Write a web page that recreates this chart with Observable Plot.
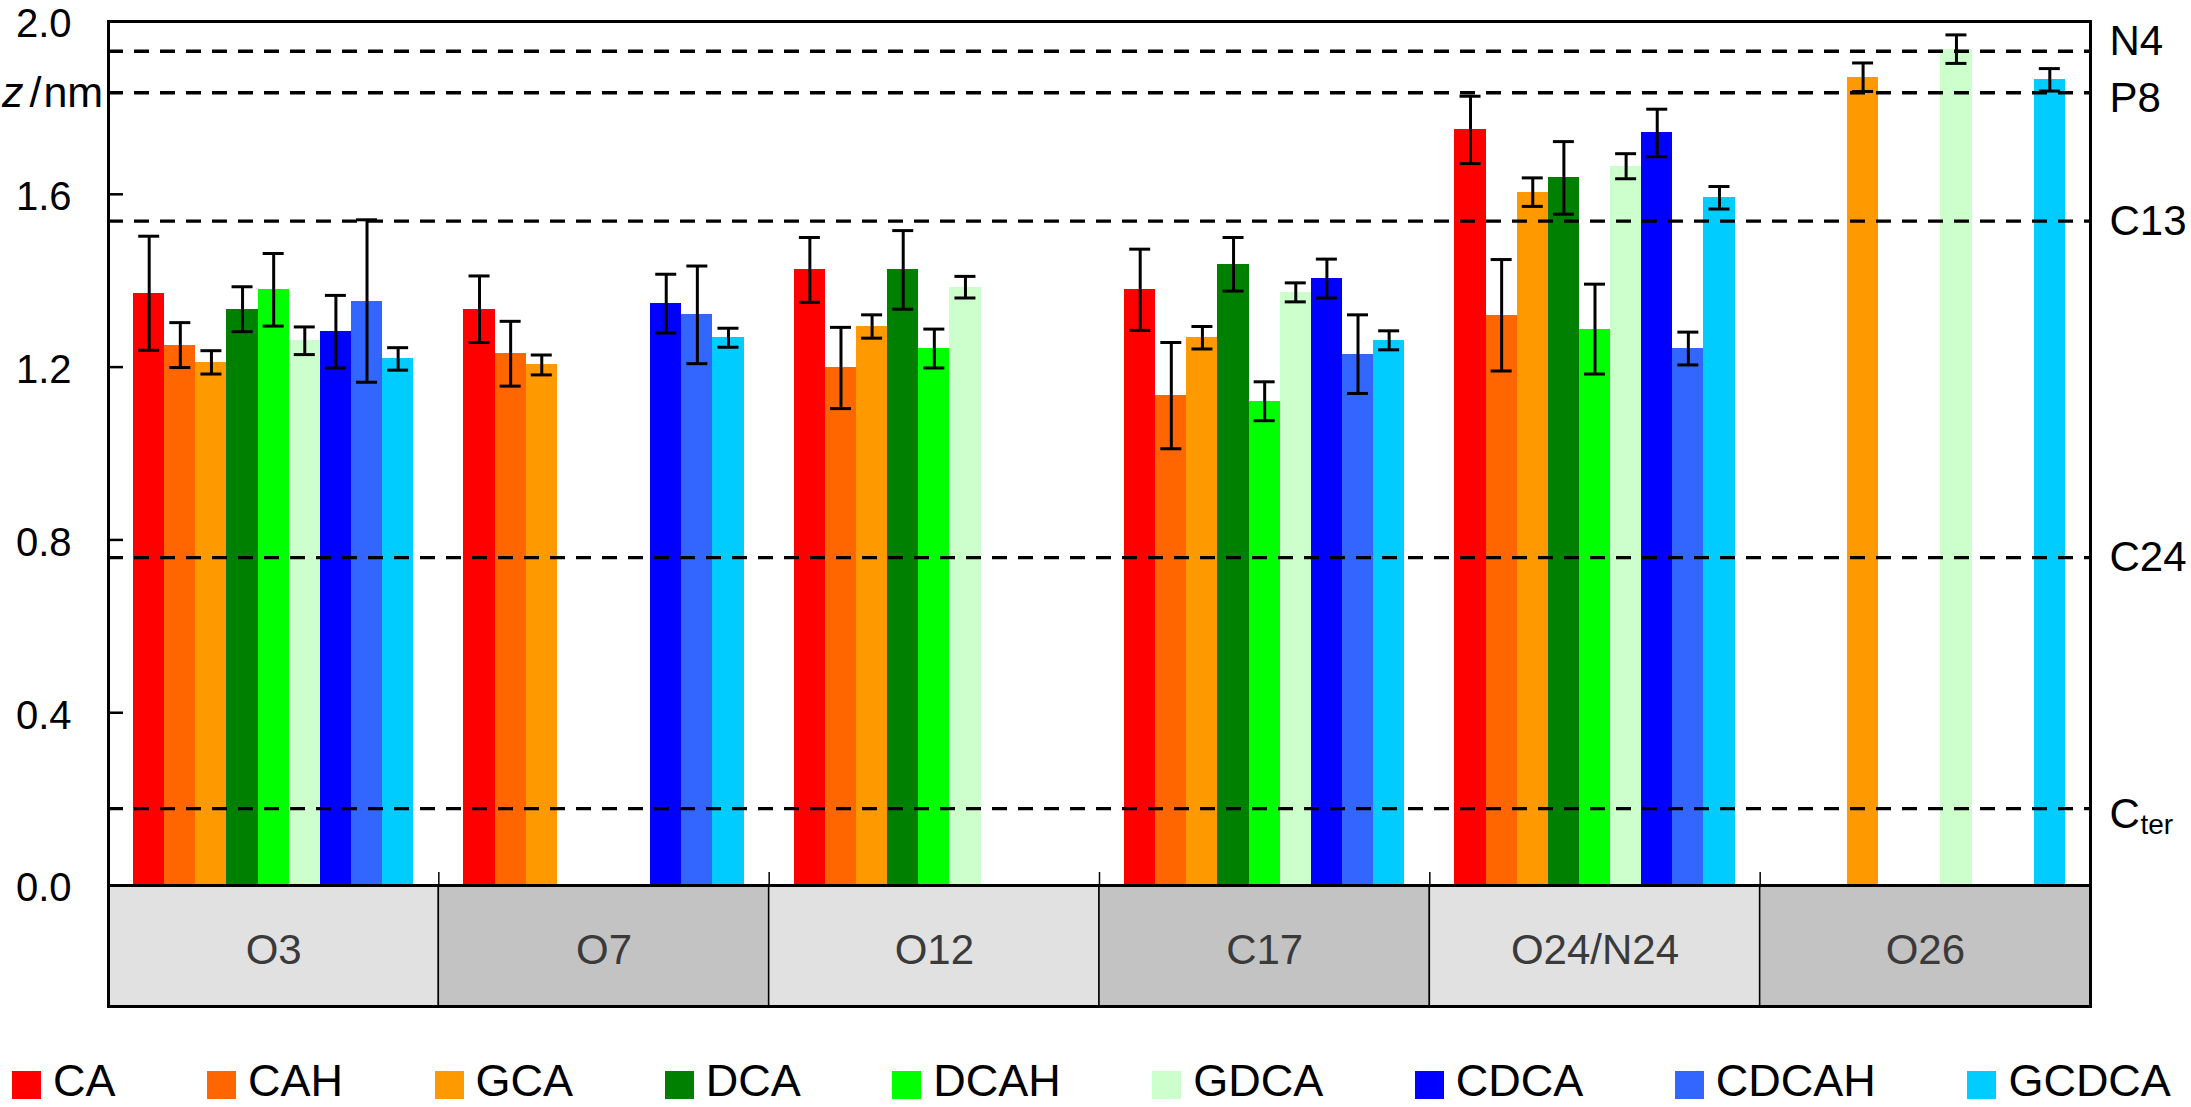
<!DOCTYPE html>
<html>
<head>
<meta charset="utf-8">
<script src="https://cdn.jsdelivr.net/npm/d3@7"></script>
<script src="https://cdn.jsdelivr.net/npm/@observablehq/plot@0.6"></script>
<style>
  html, body { margin: 0; padding: 0; background: #fff; }
  #wrap { position: relative; width: 2191px; height: 1107px; overflow: hidden; font-family: "Liberation Sans", Arial, sans-serif; }
  #ylab { position: absolute; left: 2px; top: 71px; font-size: 43px; line-height: 43px; color: #000; white-space: nowrap; }
  #ylab .sl { margin-left: 6px; margin-right: 2px; }
  #legend { position: absolute; left: 12px; top: 1056px; width: 2159px; height: 50px; display: flex; justify-content: space-between; align-items: flex-start; }
  .item { display: flex; align-items: flex-start; font-size: 45px; line-height: 50px; height: 50px; color: #000; }
  .sw { width: 29px; height: 28px; margin-top: 15px; margin-right: 12px; }
</style>
</head>
<body>
<div id="wrap">
  <div id="chart"></div>
  <div id="ylab"><i>z</i><span class="sl">/</span>nm</div>
  <div id="legend"></div>
</div>
<script>
// ---- data ----
const groups = ["O3", "O7", "O12", "C17", "O24/N24", "O26"];
const series = ["CA", "CAH", "GCA", "DCA", "DCAH", "GDCA", "CDCA", "CDCAH", "GCDCA"];
const colors = ["#ff0000", "#ff6600", "#ff9900", "#008000", "#00ff00", "#ccffcc", "#0000ff", "#3366ff", "#00ccff"];

const zO3  = [1.371, 1.251, 1.211, 1.334, 1.379, 1.261, 1.282, 1.353, 1.219];
const eO3  = [0.132, 0.052, 0.027, 0.052, 0.084, 0.032, 0.084, 0.188, 0.026];
const zO7  = [1.334, 1.231, 1.205, null, null, null, 1.347, 1.321, 1.268];
const eO7  = [0.077, 0.075, 0.023, null, null, null, 0.068, 0.113, 0.022];
const zO12 = [1.425, 1.198, 1.294, 1.425, 1.243, 1.385, null, null, null];
const eO12 = [0.075, 0.094, 0.027, 0.091, 0.045, 0.025, null, null, null];
const zC17 = [1.379, 1.134, 1.268, 1.438, 1.121, 1.373, 1.405, 1.230, 1.262];
const eC17 = [0.094, 0.123, 0.026, 0.062, 0.045, 0.022, 0.045, 0.091, 0.022];
const zO24 = [1.749, 1.320, 1.605, 1.638, 1.288, 1.665, 1.742, 1.243, 1.592];
const eO24 = [0.078, 0.129, 0.033, 0.084, 0.104, 0.029, 0.055, 0.038, 0.026];
const zO26 = [null, null, 1.871, null, null, 1.936, null, null, 1.865];
const eO26 = [null, null, 0.033, null, null, 0.033, null, null, 0.026];

const refBase = ["N4", "P8", "C13", "C24", "C"];
const refSub  = ["", "", "", "", "ter"];
const refZ    = [1.931, 1.835, 1.538, 0.759, 0.178];

const yTicks = [0, 0.4, 0.8, 1.2, 1.6, 2.0];

// ---- layout ----
const W = 2191, H = 1010;
const mL = 108, mR = 101, mT = 21, mB = 4;
const boxDepth = 0.28;              // depth of the category boxes below zero (y units)
const barFrac = 0.0942;             // bar width as fraction of a group box
const padFrac = (1 - series.length * barFrac) / 2;
const groupPx = (W - mL - mR) / groups.length;
const pxPerY = (H - mB - mT) / (2 + boxDepth);
const capHalf = 10.5 / groupPx;
const yTickLen = 15 / groupPx;
const xTickLen = 13 / pxPerY;
const refLabelDy = [-10, 6, 0, 0, 6];   // vertical nudges of the right-hand labels (px)

const zAll = [zO3, zO7, zO12, zC17, zO24, zO26];
const eAll = [eO3, eO7, eO12, eC17, eO24, eO26];

const bars = groups.flatMap((g, gi) => series.map((s, si) => {
  const x1 = gi + padFrac + si * barFrac;
  return {g, s, z: zAll[gi][si], e: eAll[gi][si], color: colors[si], x1, x2: x1 + barFrac, xc: x1 + barFrac / 2};
})).filter(d => d.z != null);

const caps = bars.flatMap(d => [{y: d.z - d.e, xc: d.xc}, {y: d.z + d.e, xc: d.xc}]);
const refs = refZ.map((z, i) => ({z, base: refBase[i], sub: refSub[i], dy: refLabelDy[i]}));
const boxes = groups.map((g, i) => ({g, i, fill: i % 2 ? "#c3c3c3" : "#e1e1e1"}));

const refMarks = refs.map(r => Plot.text([r], {x: groups.length, y: "z", text: "base", textAnchor: "start", dx: 19, dy: r.dy, fontSize: 42, fill: "#000"}));
const subMarks = refs.filter(r => r.sub).map(r => Plot.text([r], {x: groups.length, y: "z", text: "sub", textAnchor: "start", dx: 50, dy: r.dy + 10, fontSize: 28, fill: "#000"}));

const chart = Plot.plot({
  width: W, height: H,
  marginLeft: mL, marginRight: mR, marginTop: mT, marginBottom: mB,
  style: {fontFamily: '"Liberation Sans", Arial, sans-serif', fontSize: "40px", background: "#fff", overflow: "visible"},
  x: {domain: [0, groups.length], axis: null},
  y: {domain: [-boxDepth, 2]},
  color: {type: "identity"},
  marks: [
    Plot.rect(boxes, {x1: d => d.i, x2: d => d.i + 1, y1: -boxDepth, y2: 0, fill: "fill", stroke: "#000", strokeWidth: 1.5}),
    Plot.text(boxes, {x: d => d.i + 0.5, y: -boxDepth / 2, text: "g", fontSize: 42, fill: "#3a3a3a", dy: 5}),
    Plot.rect(bars, {x1: "x1", x2: "x2", y1: 0, y2: "z", fill: "color", shapeRendering: "crispEdges"}),
    Plot.ruleY(refs, {y: "z", stroke: "#000", strokeWidth: 3.4, strokeDasharray: "15,11"}),
    Plot.ruleX(bars, {x: "xc", y1: d => d.z - d.e, y2: d => d.z + d.e, stroke: "#000", strokeWidth: 3}),
    Plot.ruleY(caps, {y: "y", x1: d => d.xc - capHalf, x2: d => d.xc + capHalf, stroke: "#000", strokeWidth: 3}),
    Plot.ruleY(yTicks, {x1: 0, x2: yTickLen, stroke: "#000", strokeWidth: 2.5}),
    Plot.ruleX(d3.range(1, groups.length), {y1: 0, y2: xTickLen, stroke: "#000", strokeWidth: 1.5}),
    Plot.ruleY([0], {stroke: "#000", strokeWidth: 3}),
    Plot.frame({stroke: "#000", strokeWidth: 3}),
    Plot.axisY(yTicks, {tickSize: 0, tickPadding: 37, tickFormat: d3.format(".1f"), fontSize: 40, fill: "#000", label: null, dy: 3}),
    ...refMarks,
    ...subMarks
  ]
});
document.getElementById("chart").appendChild(chart);

// legend
const leg = document.getElementById("legend");
series.forEach((s, i) => {
  const it = document.createElement("div");
  it.className = "item";
  it.innerHTML = `<span class="sw" style="background:${colors[i]}"></span><span>${s}</span>`;
  leg.appendChild(it);
});
</script>
</body>
</html>
